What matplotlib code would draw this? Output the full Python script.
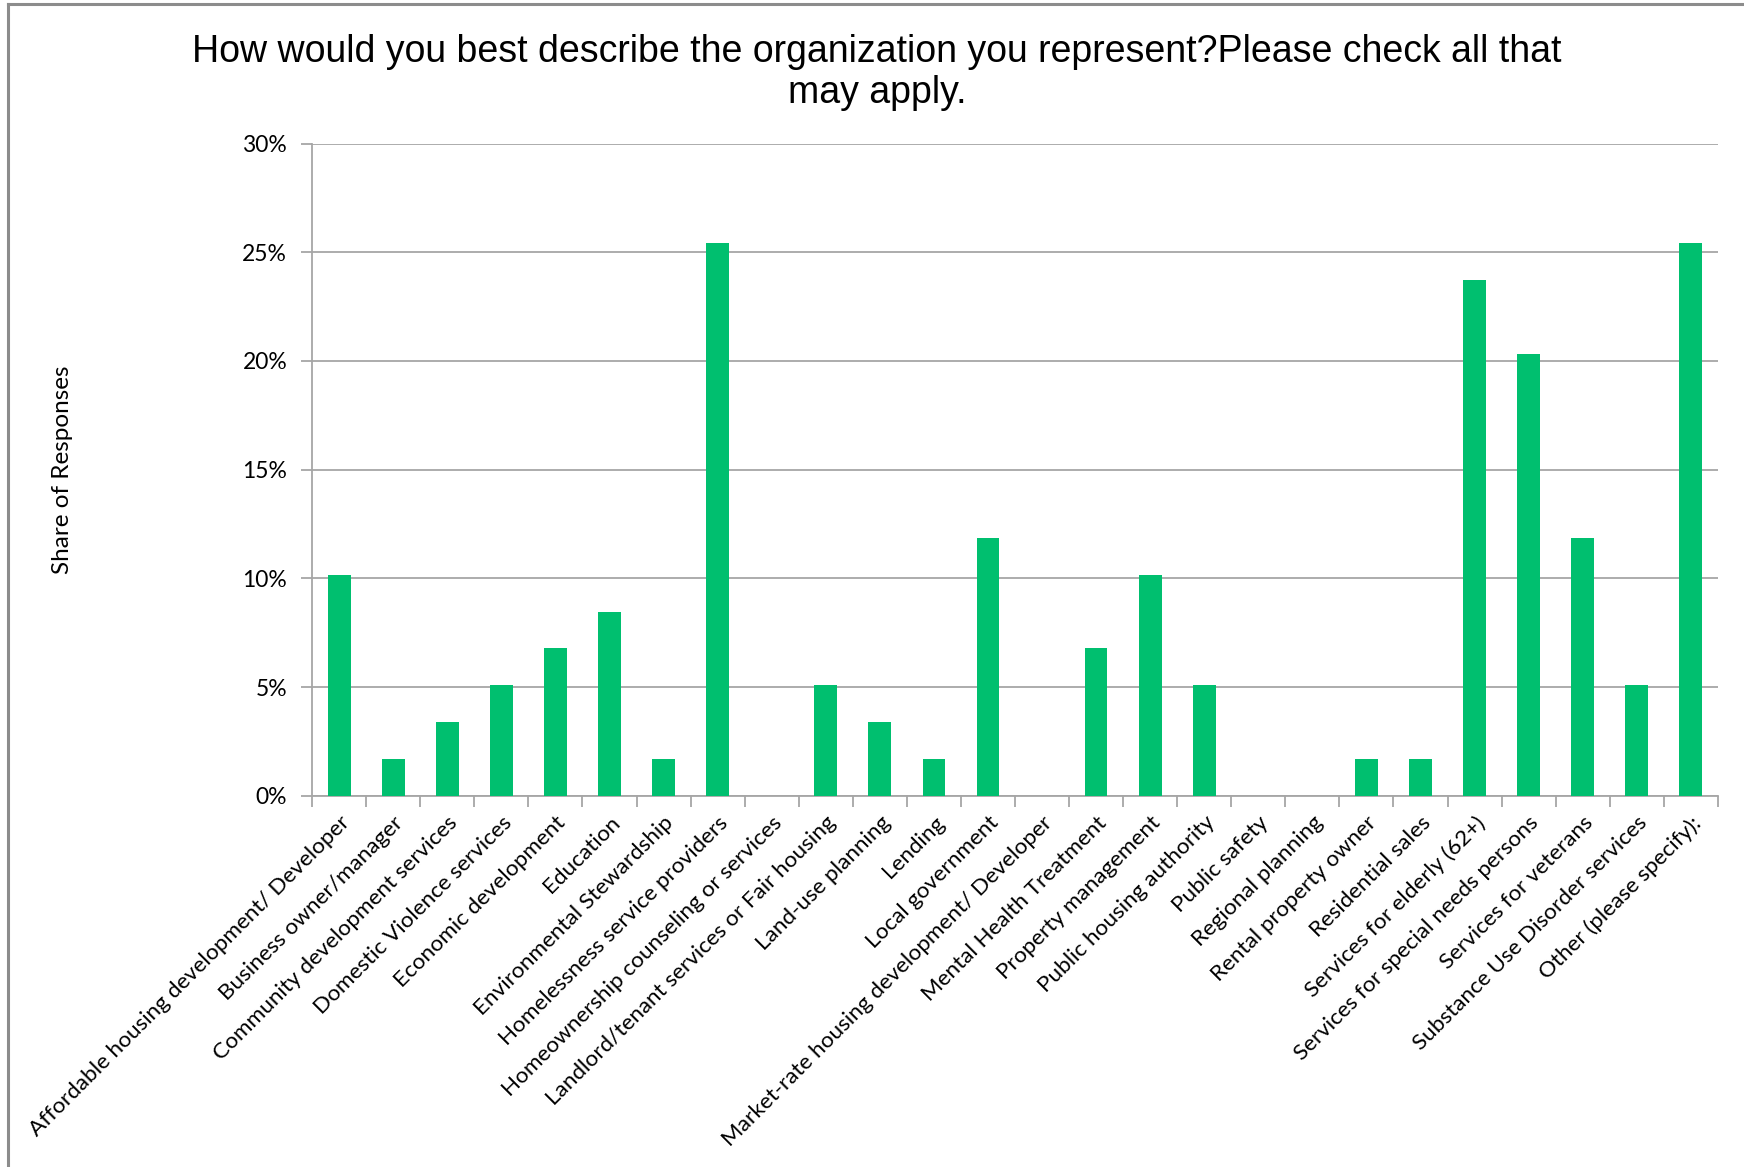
import numpy as np
import matplotlib.pyplot as plt
from matplotlib.lines import Line2D
from matplotlib.ticker import FuncFormatter, FixedLocator

categories = [
    "Affordable housing development/ Developer",
    "Business owner/manager",
    "Community development services",
    "Domestic Violence services",
    "Economic development",
    "Education",
    "Environmental Stewardship",
    "Homelessness service providers",
    "Homeownership counseling or services",
    "Landlord/tenant services or Fair housing",
    "Land-use planning",
    "Lending",
    "Local government",
    "Market-rate housing development/ Developer",
    "Mental Health Treatment",
    "Property management",
    "Public housing authority",
    "Public safety",
    "Regional planning",
    "Rental property owner",
    "Residential sales",
    "Services for elderly (62+)",
    "Services for special needs persons",
    "Services for veterans",
    "Substance Use Disorder services",
    "Other (please specify):",
]
shares = [10.17, 1.69, 3.39, 5.08, 6.78, 8.47, 1.69, 25.42, 0.0, 5.08,
          3.39, 1.69, 11.86, 0.0, 6.78, 10.17, 5.08, 0.0, 0.0, 1.69,
          1.69, 23.73, 20.34, 11.86, 5.08, 25.42]
title = "How would you best describe the organization you represent?Please check all that\nmay apply."


def main():
    fig = plt.figure(figsize=(17.44, 11.67), dpi=100)
    ax = fig.add_axes([0.179, 0.318, 0.806, 0.559])

    x = np.arange(len(categories))
    ax.bar(x, shares, width=0.42, color="#00BF6F", zorder=3)

    ax.set_xlim(-0.5, len(categories) - 0.5)
    ax.set_ylim(0, 30)
    ax.set_yticks(np.arange(0, 31, 5))
    ax.yaxis.set_major_formatter(FuncFormatter(lambda v, p: "%d%%" % v))
    ax.grid(axis="y", color="#a6a6a6", linewidth=1.3, zorder=0)
    ax.tick_params(axis="y", length=8, color="#a6a6a6", width=1.3, pad=10,
                   labelsize=16.5)
    for lab in ax.get_yticklabels():
        lab.set_fontfamily("Lato")

    # category labels centred on bars, tick marks on the boundaries
    ax.set_xticks(x)
    ax.set_xticklabels(categories, rotation=45, ha="right",
                       rotation_mode="anchor", fontsize=16.2,
                       fontfamily="Lato")
    ax.tick_params(axis="x", which="major", length=0, pad=12)
    ax.xaxis.set_minor_locator(FixedLocator(np.arange(-0.5, len(categories), 1)))
    ax.tick_params(axis="x", which="minor", length=8, color="#a6a6a6", width=1.3)

    for side in ["top", "right"]:
        ax.spines[side].set_visible(False)
    for side in ["left", "bottom"]:
        ax.spines[side].set_color("#a6a6a6")
        ax.spines[side].set_linewidth(1.3)

    ax.set_ylabel("Share of Responses", fontsize=17.5, fontfamily="Lato")
    ax.yaxis.set_label_coords(-0.17, 0.5)

    fig.text(0.503, 0.938, title, ha="center", va="center", fontsize=27,
             fontfamily="Liberation Sans", linespacing=1.2)

    # frame only on top and left, as in the original export
    fig.add_artist(Line2D([0.0045, 1.0], [0.9962, 0.9962], transform=fig.transFigure,
                          color="#8c8c8c", linewidth=2.2))
    fig.add_artist(Line2D([0.0045, 0.0045], [0.0, 0.9962], transform=fig.transFigure,
                          color="#8c8c8c", linewidth=2.2))

    fig.savefig("out.png", dpi=100)


if __name__ == "__main__":
    main()
